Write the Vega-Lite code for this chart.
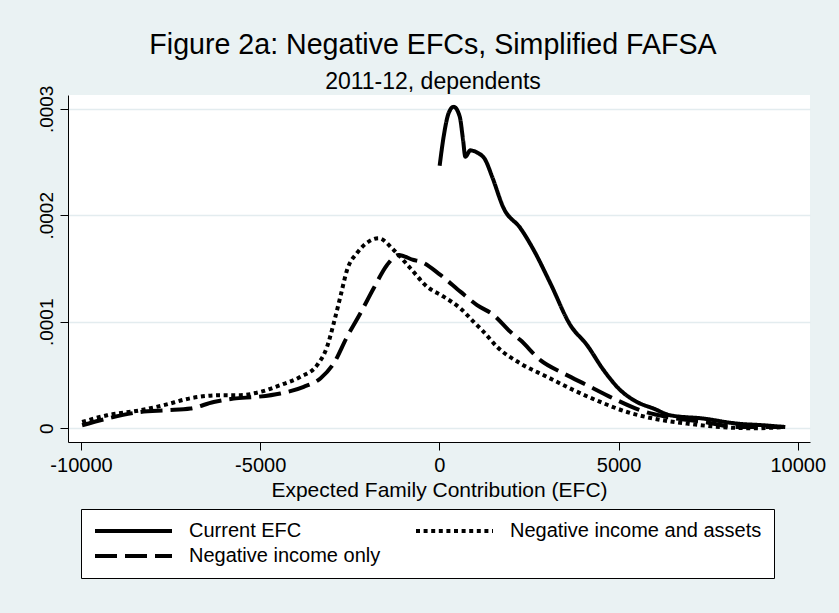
{
  "$schema": "https://vega.github.io/schema/vega-lite/v6.json",
  "width": 742,
  "height": 347,
  "autosize": {"type": "none"},
  "padding": {"left": 68, "top": 95, "right": 29, "bottom": 171},
  "background": "#EAF2F3",
  "title": {
    "text": "Figure 2a: Negative EFCs, Simplified FAFSA",
    "subtitle": "2011-12, dependents",
    "frame": "group",
    "anchor": "middle",
    "font": "Liberation Sans",
    "subtitleFont": "Liberation Sans",
    "fontSize": 28.6,
    "subtitleFontSize": 23,
    "fontWeight": "normal",
    "color": "black",
    "subtitleColor": "black",
    "offset": -9,
    "subtitlePadding": 11,
    "dx": -6
  },
  "config": {
    "view": {"fill": "white", "stroke": null},
    "axis": {
      "domainColor": "black",
      "tickColor": "black",
      "domainWidth": 1,
      "tickWidth": 1,
      "tickSize": 8,
      "labelFont": "Liberation Sans",
      "labelFontSize": 20,
      "labelColor": "black",
      "titleFont": "Liberation Sans",
      "titleFontSize": 21,
      "titleFontWeight": "normal",
      "titleColor": "black",
      "gridColor": "#E3ECEF",
      "gridWidth": 1.5
    }
  },
  "data": {
    "values": [
      {"s": "Current EFC", "x": 8, "y": 0.0002465},
      {"s": "Current EFC", "x": 120, "y": 0.000274},
      {"s": "Current EFC", "x": 259, "y": 0.000296},
      {"s": "Current EFC", "x": 399, "y": 0.000302},
      {"s": "Current EFC", "x": 566, "y": 0.000293},
      {"s": "Current EFC", "x": 661, "y": 0.000271},
      {"s": "Current EFC", "x": 725, "y": 0.000255},
      {"s": "Current EFC", "x": 865, "y": 0.000261},
      {"s": "Current EFC", "x": 1052, "y": 0.000259},
      {"s": "Current EFC", "x": 1283, "y": 0.000252},
      {"s": "Current EFC", "x": 1470, "y": 0.0002365},
      {"s": "Current EFC", "x": 1794, "y": 0.0002067},
      {"s": "Current EFC", "x": 2260, "y": 0.000188},
      {"s": "Current EFC", "x": 2631, "y": 0.0001675},
      {"s": "Current EFC", "x": 3097, "y": 0.0001362},
      {"s": "Current EFC", "x": 3655, "y": 0.0000969},
      {"s": "Current EFC", "x": 4121, "y": 0.0000781},
      {"s": "Current EFC", "x": 4584, "y": 0.0000546},
      {"s": "Current EFC", "x": 5050, "y": 0.0000358},
      {"s": "Current EFC", "x": 5516, "y": 0.0000247},
      {"s": "Current EFC", "x": 5979, "y": 0.0000185},
      {"s": "Current EFC", "x": 6445, "y": 0.0000122},
      {"s": "Current EFC", "x": 7374, "y": 0.0000091},
      {"s": "Current EFC", "x": 8306, "y": 0.0000044},
      {"s": "Current EFC", "x": 9048, "y": 0.0000028},
      {"s": "Current EFC", "x": 9653, "y": 0.0000012},

      {"s": "Negative income only", "x": -9969, "y": 0.0000028},
      {"s": "Negative income only", "x": -9271, "y": 0.0000091},
      {"s": "Negative income only", "x": -8342, "y": 0.0000153},
      {"s": "Negative income only", "x": -7597, "y": 0.0000169},
      {"s": "Negative income only", "x": -6947, "y": 0.0000185},
      {"s": "Negative income only", "x": -6297, "y": 0.0000247},
      {"s": "Negative income only", "x": -5739, "y": 0.0000279},
      {"s": "Negative income only", "x": -5086, "y": 0.0000295},
      {"s": "Negative income only", "x": -4436, "y": 0.0000327},
      {"s": "Negative income only", "x": -3785, "y": 0.0000389},
      {"s": "Negative income only", "x": -3320, "y": 0.0000468},
      {"s": "Negative income only", "x": -2949, "y": 0.0000609},
      {"s": "Negative income only", "x": -2575, "y": 0.0000859},
      {"s": "Negative income only", "x": -2204, "y": 0.000108},
      {"s": "Negative income only", "x": -1833, "y": 0.0001315},
      {"s": "Negative income only", "x": -1459, "y": 0.0001534},
      {"s": "Negative income only", "x": -1136, "y": 0.0001628},
      {"s": "Negative income only", "x": -717, "y": 0.000158},
      {"s": "Negative income only", "x": -530, "y": 0.0001565},
      {"s": "Negative income only", "x": 28, "y": 0.000144},
      {"s": "Negative income only", "x": 586, "y": 0.0001283},
      {"s": "Negative income only", "x": 1052, "y": 0.0001157},
      {"s": "Negative income only", "x": 1515, "y": 0.0001063},
      {"s": "Negative income only", "x": 1981, "y": 0.0000906},
      {"s": "Negative income only", "x": 2260, "y": 0.0000828},
      {"s": "Negative income only", "x": 2818, "y": 0.000064},
      {"s": "Negative income only", "x": 3468, "y": 0.0000515},
      {"s": "Negative income only", "x": 4121, "y": 0.0000405},
      {"s": "Negative income only", "x": 4863, "y": 0.0000279},
      {"s": "Negative income only", "x": 5608, "y": 0.0000169},
      {"s": "Negative income only", "x": 6353, "y": 0.0000106},
      {"s": "Negative income only", "x": 7374, "y": 0.0000059},
      {"s": "Negative income only", "x": 8306, "y": 0.0000012},
      {"s": "Negative income only", "x": 9606, "y": 0.0000012},

      {"s": "Negative income and assets", "x": -9969, "y": 0.0000059},
      {"s": "Negative income and assets", "x": -9271, "y": 0.0000122},
      {"s": "Negative income and assets", "x": -8342, "y": 0.0000169},
      {"s": "Negative income and assets", "x": -7700, "y": 0.0000216},
      {"s": "Negative income and assets", "x": -6947, "y": 0.0000282},
      {"s": "Negative income and assets", "x": -6110, "y": 0.0000311},
      {"s": "Negative income and assets", "x": -5552, "y": 0.0000311},
      {"s": "Negative income and assets", "x": -4994, "y": 0.0000342},
      {"s": "Negative income and assets", "x": -4436, "y": 0.0000405},
      {"s": "Negative income and assets", "x": -3878, "y": 0.0000483},
      {"s": "Negative income and assets", "x": -3412, "y": 0.0000593},
      {"s": "Negative income and assets", "x": -3133, "y": 0.0000765},
      {"s": "Negative income and assets", "x": -2949, "y": 0.0000985},
      {"s": "Negative income and assets", "x": -2762, "y": 0.0001236},
      {"s": "Negative income and assets", "x": -2575, "y": 0.0001487},
      {"s": "Negative income and assets", "x": -2296, "y": 0.0001647},
      {"s": "Negative income and assets", "x": -1973, "y": 0.0001753},
      {"s": "Negative income and assets", "x": -1694, "y": 0.0001785},
      {"s": "Negative income and assets", "x": -1275, "y": 0.0001675},
      {"s": "Negative income and assets", "x": -809, "y": 0.0001503},
      {"s": "Negative income and assets", "x": -343, "y": 0.000133},
      {"s": "Negative income and assets", "x": 120, "y": 0.0001236},
      {"s": "Negative income and assets", "x": 586, "y": 0.0001126},
      {"s": "Negative income and assets", "x": 957, "y": 0.0001},
      {"s": "Negative income and assets", "x": 1236, "y": 0.0000906},
      {"s": "Negative income and assets", "x": 1610, "y": 0.0000765},
      {"s": "Negative income and assets", "x": 2260, "y": 0.0000609},
      {"s": "Negative income and assets", "x": 3005, "y": 0.0000483},
      {"s": "Negative income and assets", "x": 3747, "y": 0.0000358},
      {"s": "Negative income and assets", "x": 4492, "y": 0.0000247},
      {"s": "Negative income and assets", "x": 5237, "y": 0.0000153},
      {"s": "Negative income and assets", "x": 5979, "y": 0.0000091},
      {"s": "Negative income and assets", "x": 6911, "y": 0.0000044},
      {"s": "Negative income and assets", "x": 7840, "y": 0.0000012},
      {"s": "Negative income and assets", "x": 8769, "y": 0.0},
      {"s": "Negative income and assets", "x": 9606, "y": 0.0000012}
    ]
  },
  "mark": {"type": "line", "strokeWidth": 4, "color": "black", "interpolate": "monotone"},
  "encoding": {
    "x": {
      "field": "x",
      "type": "quantitative",
      "scale": {"domain": [-10363, 10343], "nice": false, "zero": false},
      "axis": {
        "values": [-10000, -5000, 0, 5000, 10000],
        "labelExpr": "'' + datum.value",
        "title": "Expected Family Contribution (EFC)",
        "grid": false,
        "labelPadding": 5,
        "titlePadding": 4
      }
    },
    "y": {
      "field": "y",
      "type": "quantitative",
      "scale": {"domain": [-0.0000129, 0.000313], "nice": false, "zero": false},
      "axis": {
        "values": [0, 0.0001, 0.0002, 0.0003],
        "labelExpr": "datum.value == 0 ? '0' : replace(format(datum.value, '.4f'), '0.', '.')",
        "title": null,
        "grid": true,
        "labelAngle": -90,
        "labelAlign": "center",
        "labelBaseline": "alphabetic",
        "labelPadding": 8,
        "labelFontSize": 19
      }
    },
    "strokeDash": {
      "field": "s",
      "type": "nominal",
      "scale": {
        "domain": ["Current EFC", "Negative income and assets", "Negative income only"],
        "range": [[1, 0], [4, 3.6], [22, 8]]
      },
      "legend": {
        "orient": "none",
        "legendX": 13,
        "legendY": 414,
        "direction": "horizontal",
        "columns": 2,
        "title": null,
        "symbolType": "stroke",
        "symbolSize": 5929,
        "symbolStrokeWidth": 4,
        "symbolStrokeColor": "black",
        "clipHeight": 20,
        "labelFont": "Liberation Sans",
        "labelFontSize": 20,
        "labelColor": "black",
        "labelOffset": 15,
        "labelLimit": 400,
        "columnPadding": 33,
        "rowPadding": 5,
        "padding": 12,
        "strokeColor": "black",
        "fillColor": "white"
      }
    }
  }
}
